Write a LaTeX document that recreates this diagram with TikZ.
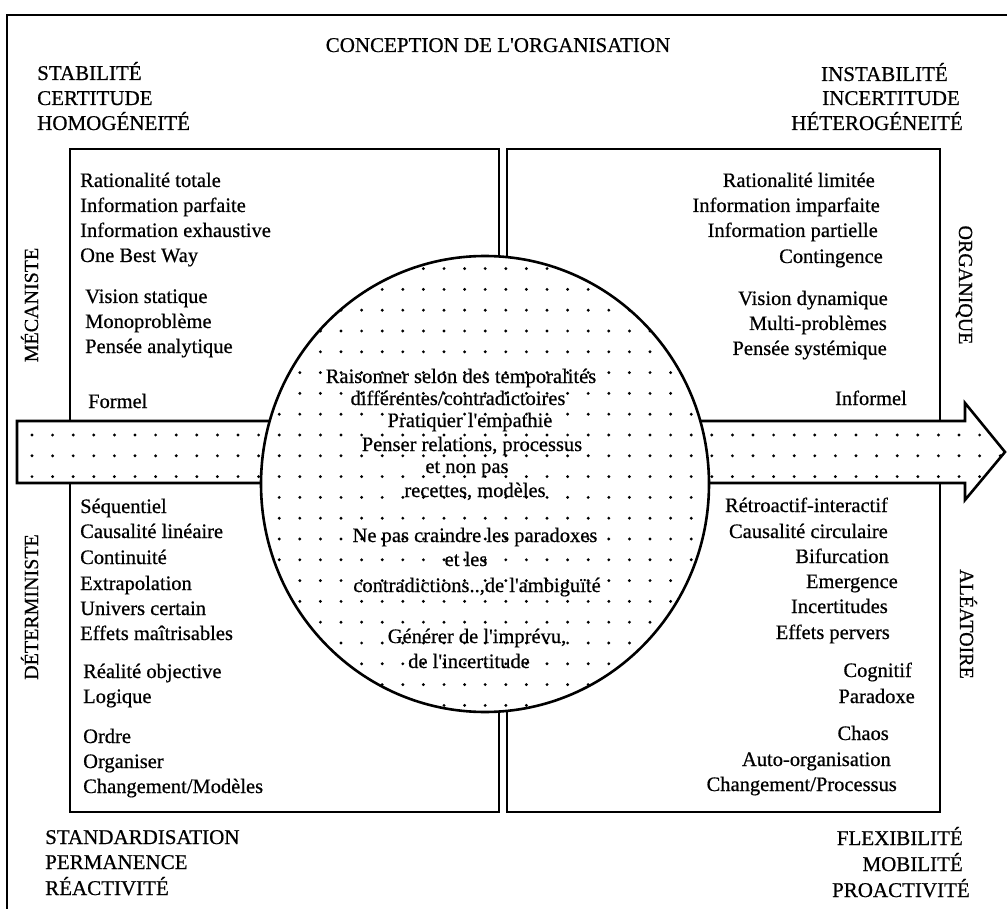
\documentclass[tikz,border=0pt]{standalone}
\usepackage{fontspec}
\setmainfont{Liberation Serif}
\newfontfamily\heavyserif[FakeBold=0.6]{Liberation Serif}
\begin{document}
\begin{tikzpicture}[x=1pt,y=-1pt,
  bodytxt/.style={font=\heavyserif\fontsize{20.5}{22}\selectfont, inner sep=0pt, text height=14pt, text depth=4pt},
  headtxt/.style={font=\heavyserif\fontsize{21}{23}\selectfont, inner sep=0pt, text height=14pt, text depth=4pt},
  sidetxt/.style={font=\heavyserif\fontsize{20}{22}\selectfont, inner sep=0pt, text height=14pt, text depth=4pt},
  frameline/.style={line width=2.6pt},
]
\useasboundingbox (0,0) rectangle (1007,909);

% outer frame (top and left sides)
\coordinate (fbl) at (7,915);
\coordinate (ftl) at (7,15);
\coordinate (ftr) at (1012,15);
\draw[frameline] (fbl) -- (ftl) -- (ftr);

% two quadrant panels
\draw[frameline] (70,149) rectangle (499,812);
\draw[frameline] (507,149) rectangle (940,812);

% arrow band with dotted fill
\path[fill=white] (17,421) -- (965,421) -- (965,403) -- (1005,452) -- (965,500) -- (965,483) -- (17,483) -- cycle;
\begin{scope}
  \clip (17,421) -- (965,421) -- (965,403) -- (1005,452) -- (965,500) -- (965,483) -- (17,483) -- cycle;
  \foreach \i in {0,...,48}{
    \foreach \j in {-2,...,2}{
      \fill (32+20.6*\i, 435+20.8*\j) circle (1.6);
    }
  }
\end{scope}
\draw[frameline, line join=miter] (17,421) -- (965,421) -- (965,403) -- (1005,452) -- (965,500) -- (965,483) -- (17,483) -- cycle;

% central dotted disc
\fill[white] (485,484) ellipse [x radius=224, y radius=228];
\begin{scope}
  \clip (485,484) ellipse [x radius=224, y radius=228];
  \foreach \i in {11,...,34}{
    \foreach \j in {-9,...,13}{
      \fill (32+20.6*\i, 435+20.8*\j) circle (1.6);
    }
  }
\end{scope}
\draw[frameline] (485,484) ellipse [x radius=224, y radius=228];

% title and corner headings
\node[headtxt] (title) at (498,47) {CONCEPTION DE L\textquotesingle ORGANISATION};
\node[headtxt, anchor=west] (tl1) at (37,75) {STABILITÉ};
\node[headtxt, anchor=west] (tl2) at (37,100) {CERTITUDE};
\node[headtxt, anchor=west] (tl3) at (37,125) {HOMOGÉNEITÉ};
\node[headtxt, anchor=east] (tr1) at (948,76) {INSTABILITÉ};
\node[headtxt, anchor=east] (tr2) at (960,100) {INCERTITUDE};
\node[headtxt, anchor=east] (tr3) at (963,125) {HÉTEROGÉNEITÉ};
\node[headtxt, anchor=west] (bl1) at (45,839) {STANDARDISATION};
\node[headtxt, anchor=west] (bl2) at (45,864) {PERMANENCE};
\node[headtxt, anchor=west] (bl3) at (45,890) {RÉACTIVITÉ};
\node[headtxt, anchor=east] (br1) at (963,840) {FLEXIBILITÉ};
\node[headtxt, anchor=east] (br2) at (963,866) {MOBILITÉ};
\node[headtxt, anchor=east] (br3) at (970,892) {PROACTIVITÉ};

% side labels
\node[sidetxt, rotate=90] (mec) at (33,305) {MÉCANISTE};
\node[sidetxt, rotate=90] (det) at (33,607) {DÉTERMINISTE};
\node[sidetxt, rotate=-90] (org) at (964,285) {ORGANIQUE};
\node[sidetxt, rotate=-90] (ale) at (965,624) {ALÉATOIRE};

% upper left panel
\node[bodytxt, anchor=west] (a1) at (80,182) {Rationalité totale};
\node[bodytxt, anchor=west] (a2) at (80,207) {Information parfaite};
\node[bodytxt, anchor=west] (a3) at (80,232) {Information exhaustive};
\node[bodytxt, anchor=west] (a4) at (80,257) {One Best Way};
\node[bodytxt, anchor=west] (a5) at (85,298) {Vision statique};
\node[bodytxt, anchor=west] (a6) at (85,323) {Monoproblème};
\node[bodytxt, anchor=west] (a7) at (85,348) {Pensée analytique};
\node[bodytxt, anchor=west] (a8) at (88,403) {Formel};

% lower left panel
\node[bodytxt, anchor=west] (b1) at (80,508) {Séquentiel};
\node[bodytxt, anchor=west] (b2) at (80,533) {Causalité linéaire};
\node[bodytxt, anchor=west] (b3) at (80,559) {Continuité};
\node[bodytxt, anchor=west] (b4) at (80,585) {Extrapolation};
\node[bodytxt, anchor=west] (b5) at (80,610) {Univers certain};
\node[bodytxt, anchor=west] (b6) at (80,635) {Effets maîtrisables};
\node[bodytxt, anchor=west] (b7) at (83,673) {Réalité objective};
\node[bodytxt, anchor=west] (b8) at (83,698) {Logique};
\node[bodytxt, anchor=west] (b9) at (83,738) {Ordre};
\node[bodytxt, anchor=west] (b10) at (83,763) {Organiser};
\node[bodytxt, anchor=west] (b11) at (83,788) {Changement/Modèles};

% upper right panel
\node[bodytxt, anchor=east] (c1) at (875,182) {Rationalité limitée};
\node[bodytxt, anchor=east] (c2) at (880,207) {Information imparfaite};
\node[bodytxt, anchor=east] (c3) at (878,232) {Information partielle};
\node[bodytxt, anchor=east] (c4) at (883,258) {Contingence};
\node[bodytxt, anchor=east] (c5) at (888,300) {Vision dynamique};
\node[bodytxt, anchor=east] (c6) at (887,325) {Multi-problèmes};
\node[bodytxt, anchor=east] (c7) at (887,350) {Pensée systémique};
\node[bodytxt, anchor=east] (c8) at (907,400) {Informel};

% lower right panel
\node[bodytxt, anchor=east] (d1) at (888,507) {Rétroactif-interactif};
\node[bodytxt, anchor=east] (d2) at (888,533) {Causalité circulaire};
\node[bodytxt, anchor=east] (d3) at (889,558) {Bifurcation};
\node[bodytxt, anchor=east] (d4) at (898,583) {Emergence};
\node[bodytxt, anchor=east] (d5) at (888,608) {Incertitudes};
\node[bodytxt, anchor=east] (d6) at (890,634) {Effets pervers};
\node[bodytxt, anchor=east] (d7) at (912,672) {Cognitif};
\node[bodytxt, anchor=east] (d8) at (915,698) {Paradoxe};
\node[bodytxt, anchor=east] (d9) at (889,735) {Chaos};
\node[bodytxt, anchor=east] (d10) at (891,761) {Auto-organisation};
\node[bodytxt, anchor=east] (d11) at (897,786) {Changement/Processus};

% texts inside the disc
\node[bodytxt] (e1) at (461,378) {Raisonner selon des temporalités};
\node[bodytxt] (e2) at (458,400) {différentes/contradictoires};
\node[bodytxt] (e3) at (470,422) {Pratiquer l\textquotesingle empathie};
\node[bodytxt] (e4) at (472,446) {Penser relations, processus};
\node[bodytxt] (e5) at (467,468) {et non pas};
\node[bodytxt] (e6) at (475,492) {recettes, modèles};
\node[bodytxt] (e7) at (475,537) {Ne pas craindre les paradoxes};
\node[bodytxt] (e8) at (466,561) {et les};
\node[bodytxt] (e9) at (477,587) {contradictions..,de l\textquotesingle ambiguïté};
\node[bodytxt] (e10) at (477,638) {Générer de l\textquotesingle imprévu,};
\node[bodytxt] (e11) at (469,663) {de l\textquotesingle incertitude};
\end{tikzpicture}
\end{document}
